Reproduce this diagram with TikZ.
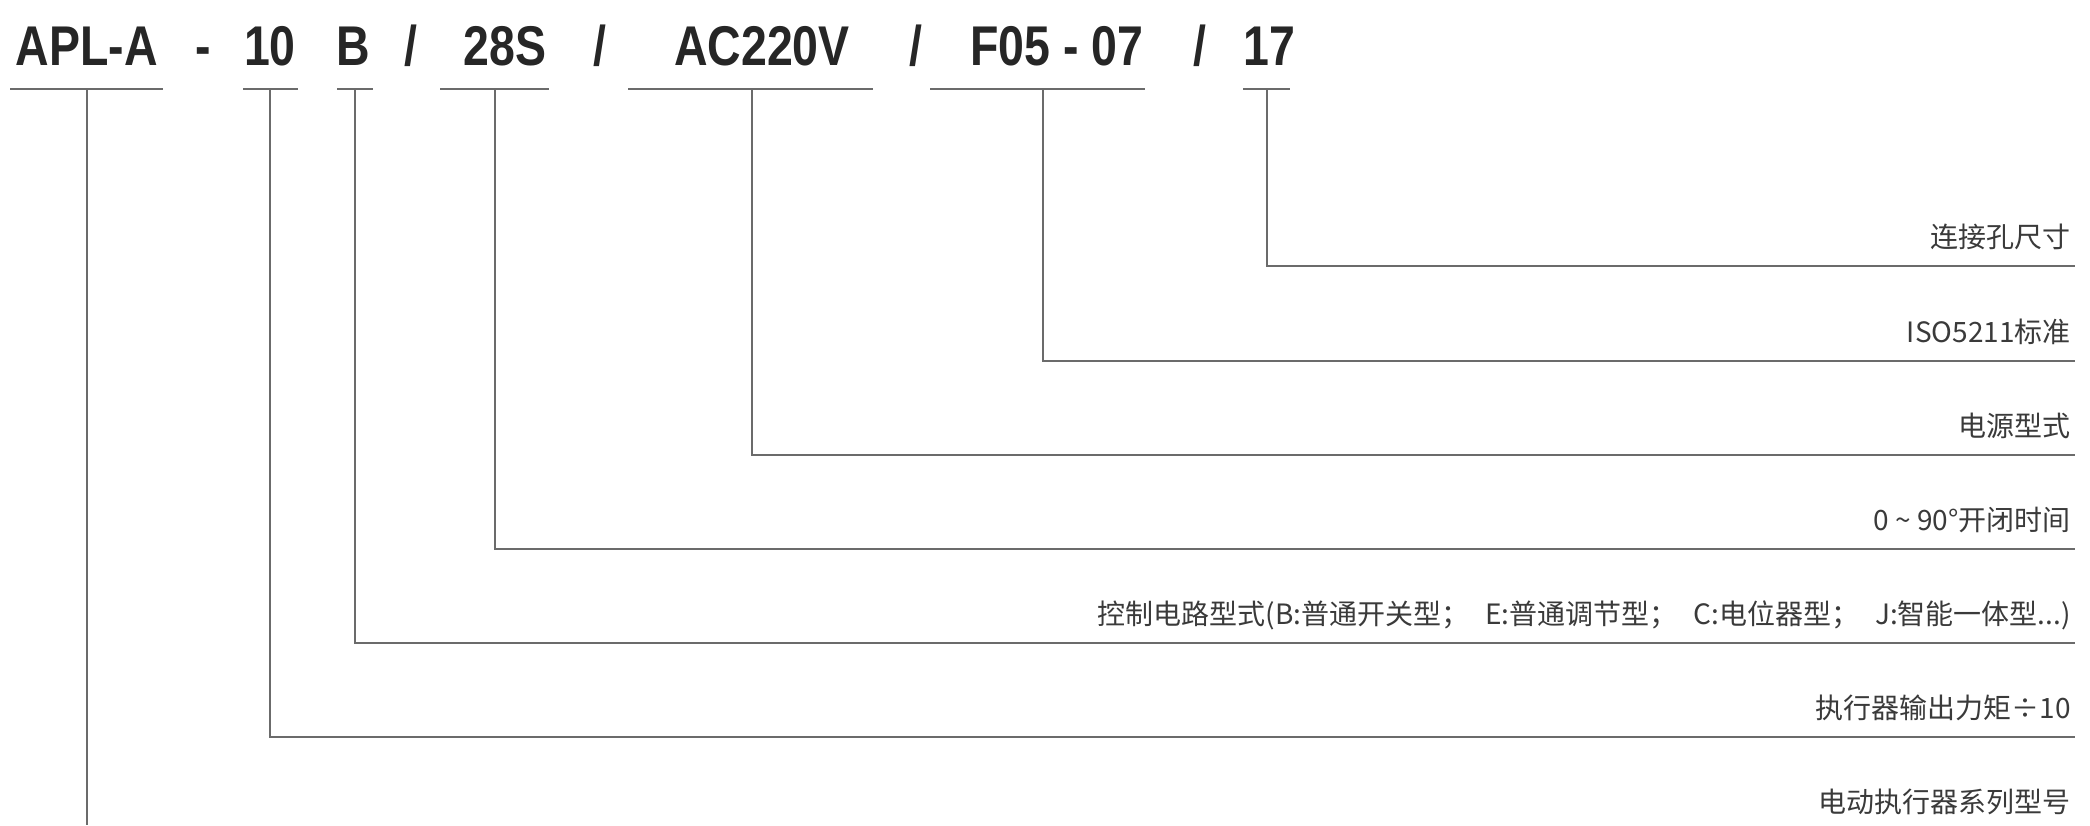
\documentclass[tikz,border=0pt]{standalone}
\usepackage{fontspec}
\setmainfont{Noto Sans CJK SC}
\newfontfamily\codefont[FakeStretch=0.83]{Liberation Sans}
\usepackage{tikz}
\usetikzlibrary{
	positioning
}

\definecolor{codeink}{HTML}{262626}
\definecolor{descink}{HTML}{3A3A3A}
\definecolor{rulegray}{HTML}{6B6B6B}

\tikzset{
	code/.style={font=\codefont\bfseries\fontsize{56}{60}\selectfont,text=codeink,inner sep=0pt,anchor=base},
	desc/.style={font=\fontsize{28}{32}\selectfont,text=descink,inner sep=0pt,anchor=base east},
	rule/.style={draw=rulegray,line width=2.6pt}
}

\begin{document}
\begin{tikzpicture}[x=1pt,y=-1pt]
		\useasboundingbox (0,0) rectangle (2090,825);

		% model code
		\draw
			node[code] (apl)  at (87,65)   {APL-A}
			node[code] (dash) at (203,65)  {-}
			node[code] (trq)  at (270,65)  {10}
			node[code] (ctl)  at (353,65)  {B}
			node[code] (sl1)  at (411,65)  {/}
			node[code] (tim)  at (505,65)  {28S}
			node[code] (sl2)  at (600,65)  {/}
			node[code] (pwr)  at (762,65)  {AC220V}
			node[code] (sl3)  at (916,65)  {/}
			node[code] (iso)  at (1057,65) {F05 - 07}
			node[code] (sl4)  at (1200,65) {/}
			node[code] (bore) at (1269,65) {17}
		;

		% underlines
		\draw[rule]
			(10,89)   -- (163,89)
			(243,89)  -- (298,89)
			(337,89)  -- (373,89)
			(440,89)  -- (549,89)
			(628,89)  -- (873,89)
			(930,89)  -- (1145,89)
			(1243,89) -- (1290,89)
		;

		\coordinate (tapA) at (87,89);
		\coordinate (tapT) at (270,89);
		\coordinate (tapB) at (355,89);
		\coordinate (tapS) at (495,89);
		\coordinate (tapV) at (752,89);
		\coordinate (tapF) at (1043,89);
		\coordinate (tapH) at (1267,89);

		\coordinate (endA) at (87,825);
		\coordinate (endT) at (2075,737);
		\coordinate (endB) at (2075,643);
		\coordinate (endS) at (2075,549);
		\coordinate (endV) at (2075,455);
		\coordinate (endF) at (2075,361);
		\coordinate (endH) at (2075,266);

		\draw[rule] (tapH) |- (endH);
		\draw[rule] (tapF) |- (endF);
		\draw[rule] (tapV) |- (endV);
		\draw[rule] (tapS) |- (endS);
		\draw[rule] (tapB) |- (endB);
		\draw[rule] (tapT) |- (endT);
		\draw[rule] (tapA) -- (endA);

		% meanings
		\node[desc,above left=19pt and 4pt of endH,anchor=base east] (lblH) {连接孔尺寸};
		\node[desc,above left=19pt and 4pt of endF,anchor=base east] (lblF) {ISO5211标准};
		\node[desc,above left=19pt and 4pt of endV,anchor=base east] (lblV) {电源型式};
		\node[desc,above left=19pt and 4pt of endS,anchor=base east] (lblS) {0 \textasciitilde{} 90°开闭时间};
		\node[desc,above left=19pt and 4pt of endB,anchor=base east] (lblB) {控制电路型式(B:普通开关型；\hspace{16pt}E:普通调节型；\hspace{16pt}C:电位器型；\hspace{16pt}J:智能一体型...)};
		\node[desc,above left=19pt and 4pt of endT,anchor=base east] (lblT) {执行器输出力矩÷10};
		\node[desc] (lblA) at (2071,812) {电动执行器系列型号};
	\end{tikzpicture}
\end{document}
